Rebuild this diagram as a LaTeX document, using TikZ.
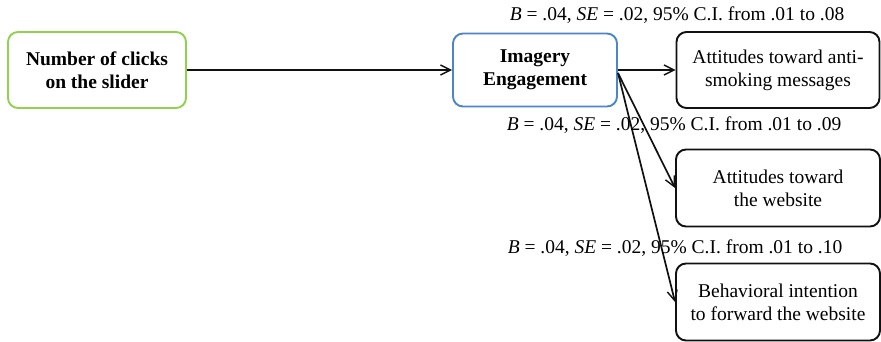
\documentclass[tikz,border=0pt]{standalone}
\usepackage{fontspec}
\setmainfont{Liberation Serif}
\usetikzlibrary{arrows.meta,positioning}
\definecolor{cGreen}{HTML}{92D050}
\definecolor{cBlue}{HTML}{4A86C8}
\definecolor{cInk}{HTML}{111111}

\begin{document}
\begin{tikzpicture}[
  x=1pt,y=-1pt,
  font=\fontsize{19.5}{23}\selectfont,
  >={Straight Barb[length=10pt,width=10pt,line width=1.4pt]},
  vbox/.style={draw=cInk,line width=1.9pt,rounded corners=10pt,align=center,
               minimum width=203pt,minimum height=76pt,inner sep=2pt},
  srcbox/.style={vbox,draw=cGreen,font=\fontsize{19.5}{23}\selectfont\bfseries,
               minimum width=178pt},
  medbox/.style={vbox,draw=cBlue,font=\fontsize{19.5}{23}\selectfont\bfseries,
               minimum width=164pt,minimum height=73pt},
  path/.style={->,line width=1.7pt,cInk},
  est/.style={inner sep=0pt}
]
\useasboundingbox (0,0) rectangle (881,341);

\node[srcbox] (clicks) at (97,70) {Number of clicks\\on the slider};
\node[medbox] (imagery) at (535,70) {Imagery\\Engagement};
\node[vbox] (attmsg) at (778,70) {Attitudes toward anti-\\smoking messages};
\node[vbox,minimum width=204pt,minimum height=77pt] (attweb) at (778,188) {Attitudes toward\\the website};
\node[vbox,minimum width=204pt,minimum height=77pt] (intent) at (778,302) {Behavioral intention\\to forward the website};

\draw[path] (clicks) -- (imagery);
\draw[path] (imagery) -- (attmsg);
\draw[path] ([yshift=-3pt]imagery.east) -- (attweb.west);
\draw[path] ([yshift=-3pt]imagery.east) -- (intent.west);

% indirect effects
\node[est] (e1) at (677,15) {\textit{B} = .04, \textit{SE} = .02, 95\% C.I. from .01 to .08};
\node[est] (e2) at (674,125) {\textit{B} = .04, \textit{SE} = .02, 95\% C.I. from .01 to .09};
\node[est] (e3) at (675,248) {\textit{B} = .04, \textit{SE} = .02, 95\% C.I. from .01 to .10};

\end{tikzpicture}
\end{document}
